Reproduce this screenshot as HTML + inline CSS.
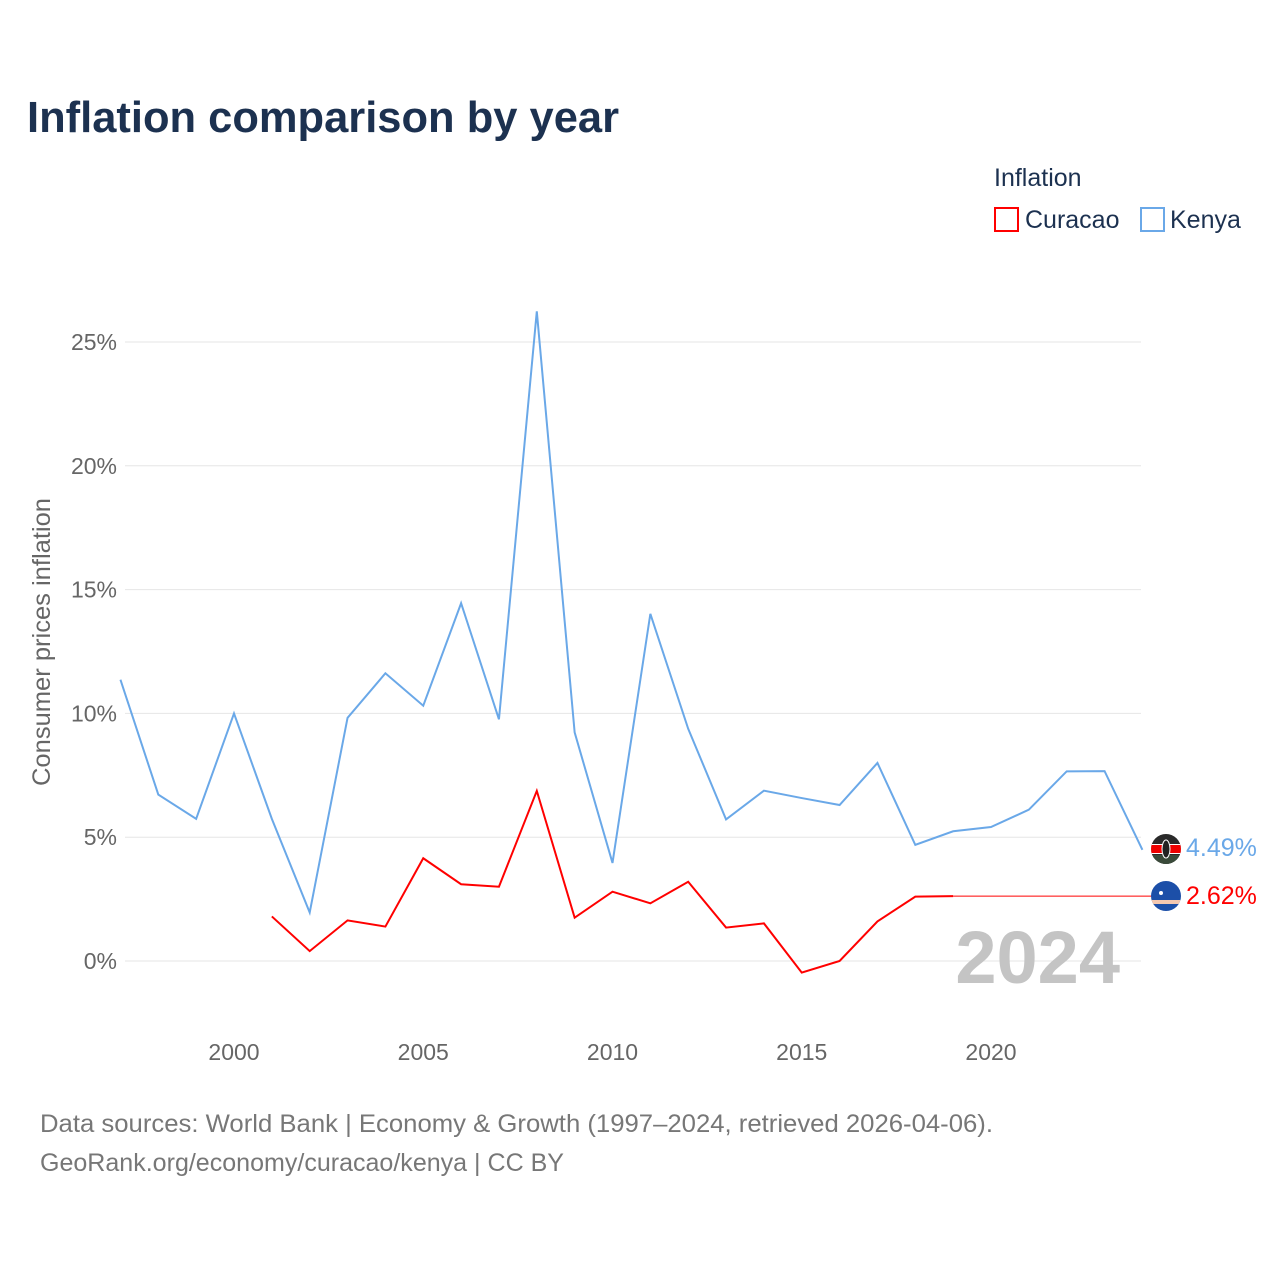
<!DOCTYPE html>
<html><head><meta charset="utf-8"><style>
body{margin:0;background:#fff;font-family:"Liberation Sans",sans-serif}
svg text{font-family:"Liberation Sans",sans-serif}
</style></head><body>
<svg width="1280" height="1280" xmlns="http://www.w3.org/2000/svg" id="chart">
<defs>
<clipPath id="ck"><circle cx="1166" cy="849" r="15"/></clipPath>
<clipPath id="cc"><circle cx="1166" cy="896" r="15"/></clipPath>
</defs>
<text x="27" y="132" font-size="44" font-weight="bold" fill="#1c3150" textLength="592" lengthAdjust="spacingAndGlyphs">Inflation comparison by year</text>
<g>
<text x="994" y="186" font-size="25" fill="#1c3150">Inflation</text>
<g><rect x="995" y="208" width="23" height="23" fill="none" stroke="#ff0000" stroke-width="2"/><text x="1025" y="228" font-size="25" fill="#1c3150">Curacao</text></g>
<g><rect x="1141" y="208" width="23" height="23" fill="none" stroke="#6aa8e8" stroke-width="2"/><text x="1170" y="228" font-size="25" fill="#1c3150">Kenya</text></g>
</g>
<text transform="translate(50,642) rotate(-90)" text-anchor="middle" font-size="25" fill="#666" textLength="288" lengthAdjust="spacingAndGlyphs">Consumer prices inflation</text>
<g id="grid"></g>
<text x="1120" y="983" text-anchor="end" font-size="74" font-weight="bold" fill="#c4c4c4">2024</text>
<g id="series"></g>
<text x="40" y="1132" font-size="25" fill="#777" textLength="953" lengthAdjust="spacingAndGlyphs">Data sources: World Bank | Economy &amp; Growth (1997–2024, retrieved 2026-04-06).</text>
<text x="40" y="1171" font-size="25" fill="#777" textLength="524" lengthAdjust="spacingAndGlyphs">GeoRank.org/economy/curacao/kenya | CC BY</text>
</svg>
<script>
const years=[1997,1998,1999,2000,2001,2002,2003,2004,2005,2006,2007,2008,2009,2010,2011,2012,2013,2014,2015,2016,2017,2018,2019,2020,2021,2022,2023,2024];
const kenya=[11.36,6.72,5.74,10.0,5.74,1.96,9.82,11.62,10.31,14.45,9.76,26.24,9.23,3.96,14.02,9.38,5.72,6.88,6.58,6.30,8.0,4.69,5.24,5.41,6.11,7.66,7.67,4.49];
const curacaoYears=[2001,2002,2003,2004,2005,2006,2007,2008,2009,2010,2011,2012,2013,2014,2015,2016,2017,2018,2019];
const curacao=[1.8,0.4,1.64,1.39,4.15,3.1,3.0,6.87,1.75,2.8,2.33,3.2,1.35,1.52,-0.47,0.0,1.6,2.6,2.62];
const yTicks=[0,5,10,15,20,25];
const xTicks=[2000,2005,2010,2015,2020];
const NS="http://www.w3.org/2000/svg";
const x=v=>234+(v-2000)*37.85;
const y=v=>961-v*24.76;
function mk(t,a,p){const e=document.createElementNS(NS,t);for(const k in a)e.setAttribute(k,a[k]);p.appendChild(e);return e;}
const g=document.getElementById('grid'),s=document.getElementById('series');
yTicks.forEach(t=>{
const l=mk('line',{x1:125,x2:1141,y1:y(t),y2:y(t),stroke:'#e6e6e6','stroke-width':1},g);


const tx=mk('text',{x:117,y:y(t)+8,'text-anchor':'end','font-size':23,fill:'#666'},g);tx.textContent=t+'%';


});
xTicks.forEach(t=>{
const tx=mk('text',{x:x(t),y:1060,'text-anchor':'middle','font-size':23,fill:'#666'},g);tx.textContent=t;


});
const kp=mk('polyline',{points:years.map((yr,i)=>x(yr)+','+y(kenya[i])).join(' '),fill:'none',stroke:'#6aa8e8','stroke-width':2},s);


const cp=mk('polyline',{points:curacaoYears.map((yr,i)=>x(yr)+','+y(curacao[i])).join(' '),fill:'none',stroke:'#ff0000','stroke-width':2},s);


const lastC=curacao[curacao.length-1],lastK=kenya[kenya.length-1];
const ext=mk('line',{x1:x(curacaoYears[curacaoYears.length-1]),x2:x(2024)+20,y1:y(lastC),y2:y(lastC),stroke:'#ff0000','stroke-width':1},s);


const fk=mk('g',{'clip-path':'url(#ck)'},s);


const cxk=1166,cyk=849;
mk('rect',{x:cxk-15,y:cyk-15,width:30,height:30,fill:'#2a2a2a'},fk);
mk('rect',{x:cxk-15,y:cyk-5,width:30,height:10,fill:'#fff'},fk);
mk('rect',{x:cxk-15,y:cyk-4,width:30,height:8,fill:'#e00'},fk);
mk('rect',{x:cxk-15,y:cyk+6,width:30,height:9,fill:'#3a4a3a'},fk);
mk('ellipse',{cx:cxk,cy:cyk,rx:4,ry:9,fill:'#222',stroke:'#fff','stroke-width':1},fk);
const fc=mk('g',{'clip-path':'url(#cc)'},s);


const cyc=896;
mk('rect',{x:1151,y:cyc-15,width:30,height:30,fill:'#1c4fa8'},fc);
mk('rect',{x:1151,y:cyc+4,width:30,height:4,fill:'#f4c8b0'},fc);
mk('circle',{cx:1161,cy:cyc-3,r:2,fill:'#fff'},fc);
const lk=mk('text',{x:1186,y:y(lastK)+6,'font-size':25,fill:'#6aa8e8'},s);lk.textContent=lastK.toFixed(2)+'%';


const lc=mk('text',{x:1186,y:y(lastC)+8,'font-size':25,fill:'#ff0000'},s);lc.textContent=lastC.toFixed(2)+'%';


</script>
</body></html>
